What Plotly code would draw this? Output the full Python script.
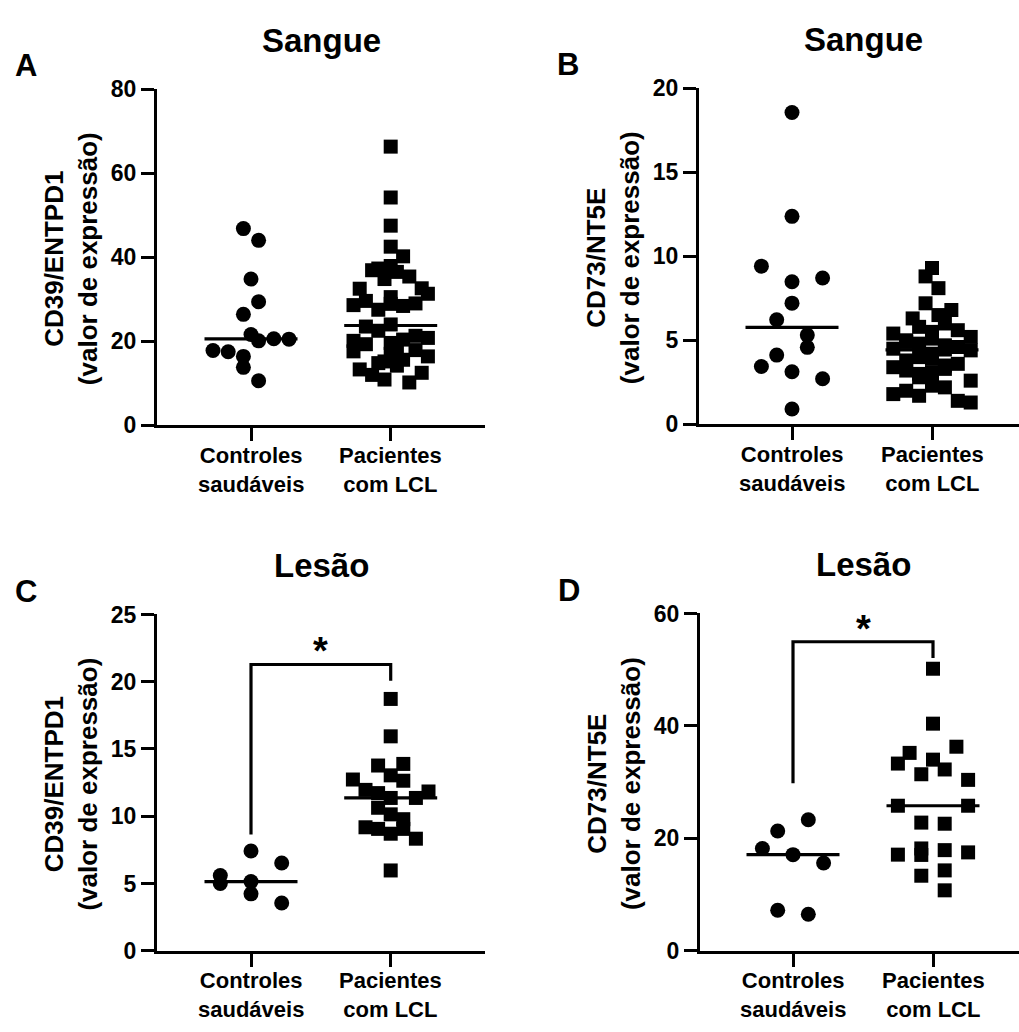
import numpy as np
import plotly.graph_objects as go

W, H = 1019, 1032
FONT = "Liberation Sans, Arial, Helvetica, sans-serif"

# ---------------- data ----------------
cat_labels = ["Controles<br>saudáveis", "Pacientes<br>com LCL"]

# A - Sangue, CD39/ENTPD1
a_controles = [17.8, 17.5, 46.8, 26.4, 16.4, 13.8, 34.8, 21.6,
               44.0, 29.4, 20.1, 10.6, 20.6, 20.5]
a_pacientes = [32.5,
               28.6, 20.1, 17.6, 37.3,
               36.9, 29.6, 23.5, 19.3, 14.8,
               42.5, 27.5, 22.5, 17.0, 13.3, 12.0,
               66.3, 54.2, 47.5, 37.9, 34.8, 24.0, 20.4, 15.6, 10.9,
               40.2, 30.5, 21.3, 17.9, 14.2, 10.2,
               36.5, 35.4, 28.4, 20.8, 16.4, 12.5,
               32.6, 29.0, 19.6, 15.2,
               31.3, 28.9, 17.8]

# B - Sangue, CD73/NT5E
b_controles = [9.41, 3.44, 6.22, 4.12, 18.55, 12.37, 8.48, 7.21, 3.13, 0.91,
               5.31, 4.58, 8.70, 2.71]
b_pacientes = [4.5, 3.8,
               5.4, 6.3, 4.0, 3.4, 1.8, 2.0, 3.2,
               8.8, 7.2, 5.0, 3.0, 2.5, 1.7, 4.2, 5.8, 2.3, 4.45,
               9.3, 6.5, 3.3, 2.2, 1.4, 8.1, 3.6, 2.6, 5.1,
               6.0, 5.6, 4.6, 4.4, 2.8, 1.3, 4.9, 3.1, 6.8, 5.2, 3.5, 5.5,
               4.8, 3.9, 4.7, 4.6]

# C - Lesão, CD39/ENTPD1
c_controles = [5.6, 7.42, 6.52, 5.0, 5.14, 3.55, 4.23]
c_pacientes = [12.73, 11.96, 9.18, 13.77, 11.72, 10.63, 9.06,
               18.72, 15.94, 13.04, 11.36, 10.14, 8.70, 5.97,
               13.89, 12.64, 9.78, 9.06, 11.36, 8.33, 11.84]

# D - Lesão, CD73/NT5E
d_controles = [18.2, 17.1, 15.6, 21.3, 23.3, 7.2, 6.5]
d_pacientes = [33.3, 25.8, 17.1, 35.2, 31.4, 22.8, 18.2, 17.05, 13.35,
               50.17, 40.4, 34.0, 32.25, 22.6, 17.9, 14.3, 10.75,
               36.3, 30.4, 25.8, 17.5]

# significance brackets: (left end, top, right end) in y units
c_bracket = [8.64, 21.28, 20.07]
d_bracket = [29.8, 54.97, 52.07]
c_star_y = 22.9
d_star_y = 58.6

titles = ["Sangue", "Sangue", "Lesão", "Lesão"]
letters = ["A", "B", "C", "D"]
ytitles = ["CD39/ENTPD1<br>(valor de expressão)",
           "CD73/NT5E<br>(valor de expressão)",
           "CD39/ENTPD1<br>(valor de expressão)",
           "CD73/NT5E<br>(valor de expressão)"]
yticks = [[0, 20, 40, 60, 80], [0, 5, 10, 15, 20],
          [0, 5, 10, 15, 20, 25], [0, 20, 40, 60]]

# ---------------- layout geometry (pixels) ----------------
# left, right, top, bottom of plot area; category centres
panels = [
    dict(box=(157, 485, 78, 423), cats=(251, 390.7)),
    dict(box=(699, 1019, 77, 422), cats=(792, 932)),
    dict(box=(157, 485, 617, 962), cats=(251, 390.7)),
    dict(box=(700, 1019, 616, 962), cats=(793, 933)),
]
series = [
    (a_controles, a_pacientes),
    (b_controles, b_pacientes),
    (c_controles, c_pacientes),
    (d_controles, d_pacientes),
]
# swarm style per series: (row height px, max per row, slot spacing px)
swarm_style = [
    ((19.5, 7, 15.2), (19.5, 7, 12.4)),
    ((19.5, 7, 30.6), (19.5, 7, 12.9)),
    ((60, 3, 30.7), (19.5, 7, 12.6)),
    ((48, 3, 30.6), (19.5, 7, 23.4)),
]


def swarm_offsets(values, px_per_unit, row_px, max_per_row, spacing):
    n = len(values)
    order = sorted(range(n), key=lambda i: (values[i], i))
    rows, cur, start = [], [], None
    for i in order:
        if cur and (values[i] - start) * px_per_unit > row_px:
            rows.append(cur)
            cur = []
        if not cur:
            start = values[i]
        cur.append(i)
    if cur:
        rows.append(cur)
    off = [0.0] * n
    for row in rows:
        row = sorted(row)
        for k in range(0, len(row), max_per_row):
            chunk = row[k:k + max_per_row]
            m = len(chunk)
            for j, i in enumerate(chunk):
                off[i] = (j - (m - 1) / 2) * spacing
    return off


fig = go.Figure()
annotations = []
LW = 3.2

for p, panel in enumerate(panels):
    left, right, top, bottom = panel["box"]
    c0, c1 = panel["cats"]
    kx = c1 - c0
    xr = [-(c0 - left) / kx, -(c0 - left) / kx + (right - left) / kx]
    ymax = yticks[p][-1]
    ky = (bottom - top) / ymax
    sfx = "" if p == 0 else str(p + 1)
    xa, ya = "x" + sfx, "y" + sfx

    axis_common = dict(showline=True, linewidth=LW, linecolor="black",
                       ticks="outside", ticklen=13, tickwidth=LW,
                       tickcolor="black", showgrid=False, zeroline=False,
                       fixedrange=True)
    fig.update_layout(**{
        "xaxis" + sfx: dict(domain=[left / W, right / W], range=xr,
                            tickvals=[0, 1], showticklabels=False,
                            anchor=ya, **axis_common),
        "yaxis" + sfx: dict(domain=[1 - bottom / H, 1 - top / H],
                            range=[0, ymax], tickvals=yticks[p],
                            ticktext=[str(t) for t in yticks[p]],
                            tickfont=dict(family=FONT, size=23,
                                          color="black", weight="bold"),
                            anchor=xa, **axis_common),
    })

    for ci, vals in enumerate(series[p]):
        row_px, mpr, sp = swarm_style[p][ci]
        off = swarm_offsets(vals, ky, row_px, mpr, sp)
        xs = [ci + o / kx for o in off]
        fig.add_trace(go.Scatter(
            x=xs, y=vals, mode="markers", xaxis=xa, yaxis=ya,
            showlegend=False, cliponaxis=False, hoverinfo="y",
            marker=dict(symbol="circle" if ci == 0 else "square",
                        size=15 if ci == 0 else 14, color="black",
                        line=dict(width=0))))
        med = float(np.median(vals))
        hw = 46.5 / kx
        fig.add_trace(go.Scatter(
            x=[ci - hw, ci + hw], y=[med, med], mode="lines",
            xaxis=xa, yaxis=ya, showlegend=False, hoverinfo="skip",
            cliponaxis=False, line=dict(color="black", width=LW)))

        # two-line category label below the tick
        annotations.append(dict(
            x=ci, xref=xa, y=1 - (bottom + 45.5) / H, yref="paper",
            text=cat_labels[ci], showarrow=False, xanchor="center",
            yanchor="middle",
            font=dict(family=FONT, size=22, color="black", weight="bold")))

    # titles, letters, y titles
    cx = (left + 485) / 2 if p in (0, 2) else (left + 1027) / 2
    annotations.append(dict(
        x=cx / W, y=1 - (top - 50) / H, xref="paper", yref="paper",
        text=titles[p], showarrow=False, xanchor="center", yanchor="middle",
        font=dict(family=FONT, size=33, color="black", weight="bold")))
    annotations.append(dict(
        x=(left - 131) / W, y=1 - (top - 24) / H, xref="paper", yref="paper",
        text=letters[p], showarrow=False, xanchor="center", yanchor="middle",
        font=dict(family=FONT, size=31, color="black", weight="bold")))
    annotations.append(dict(
        x=(left - 86) / W, y=1 - ((top + bottom) / 2 + 2) / H,
        xref="paper", yref="paper", text=ytitles[p], showarrow=False,
        textangle=-90, xanchor="center", yanchor="middle",
        font=dict(family=FONT, size=26, color="black", weight="bold")))

# significance brackets
for p, br, sy in ((2, c_bracket, c_star_y), (3, d_bracket, d_star_y)):
    sfx = str(p + 1)
    fig.add_trace(go.Scatter(
        x=[0, 0, 1, 1], y=[br[0], br[1], br[1], br[2]], mode="lines",
        xaxis="x" + sfx, yaxis="y" + sfx, showlegend=False,
        hoverinfo="skip", cliponaxis=False,
        line=dict(color="black", width=LW)))
    annotations.append(dict(
        x=0.5, y=sy, xref="x" + sfx, yref="y" + sfx, text="*",
        showarrow=False, xanchor="center", yanchor="middle", yshift=-8,
        font=dict(family=FONT, size=38, color="black", weight="bold")))

fig.update_layout(
    width=W, height=H, margin=dict(l=0, r=0, t=0, b=0),
    paper_bgcolor="white", plot_bgcolor="white",
    annotations=annotations, showlegend=False,
    font=dict(family=FONT, color="black"),
)

fig.write_html(
    "out.html",
    config={"displayModeBar": False},
    post_script="document.body.style.margin='0';"
                "document.body.style.overflow='hidden';",
)
